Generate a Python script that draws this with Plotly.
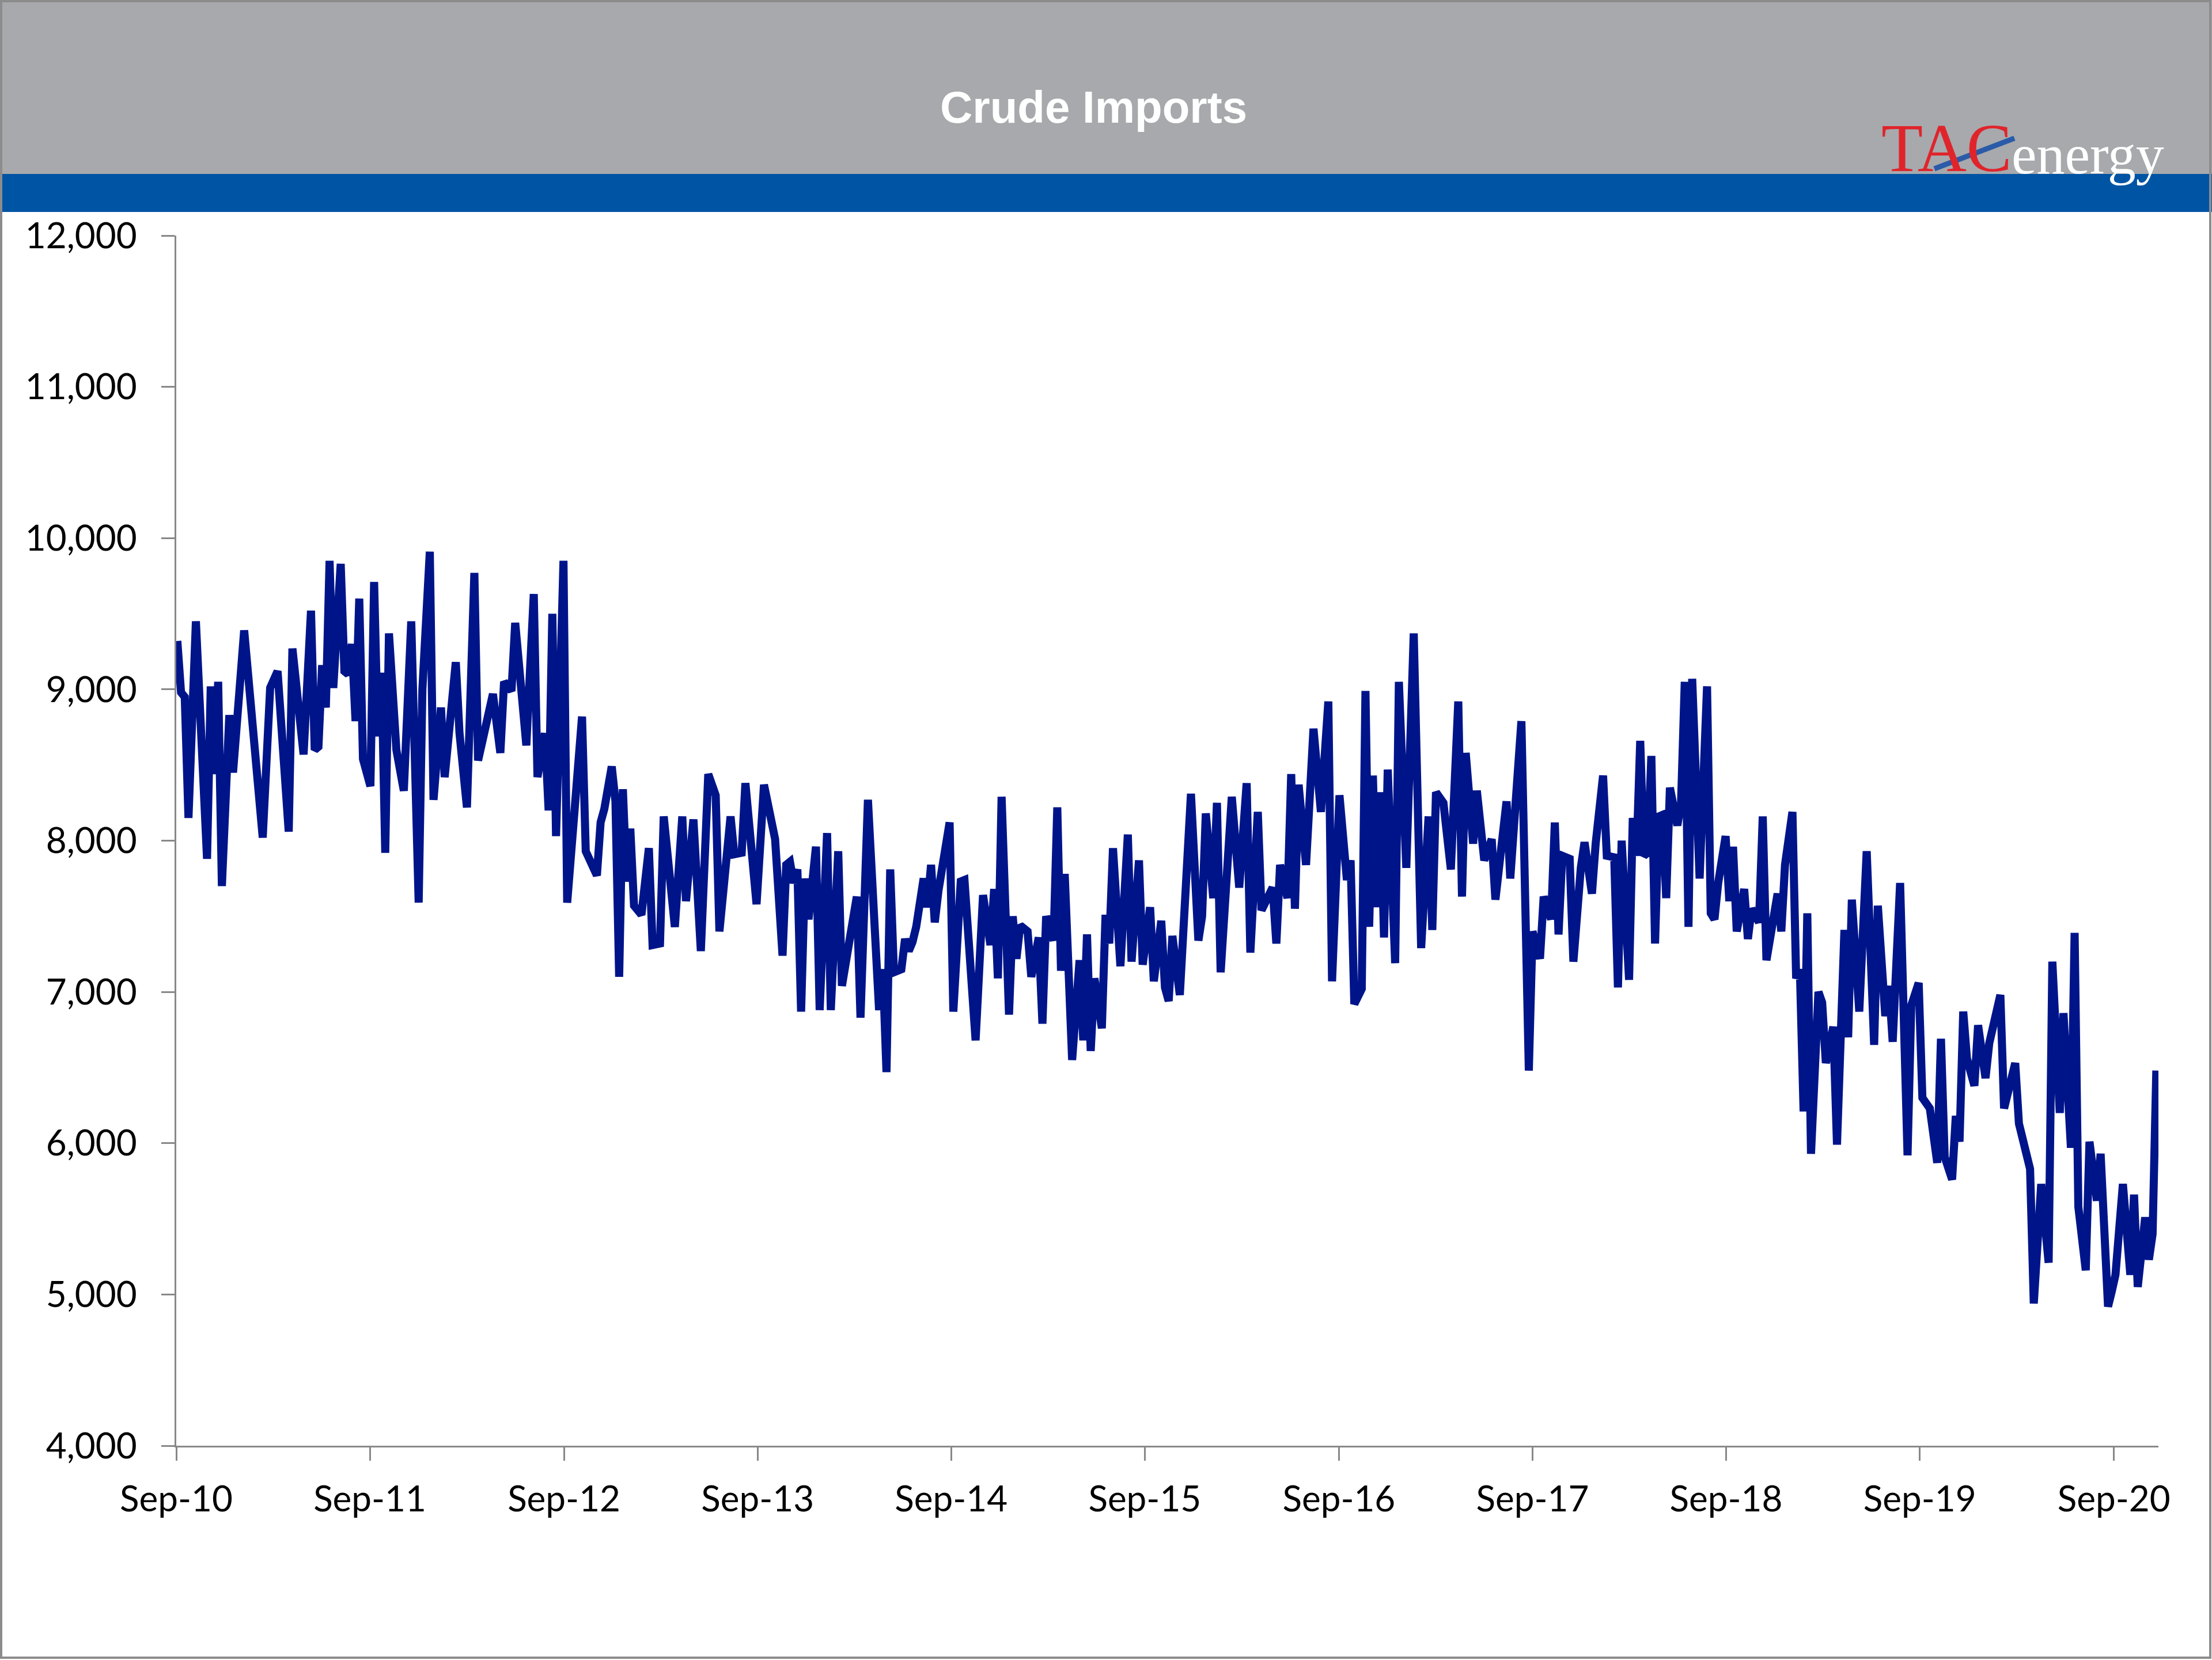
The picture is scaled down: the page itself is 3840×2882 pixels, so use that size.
import numpy as np
import pandas as pd
import plotly.graph_objs as go

# weekly crude imports, kb/d (weeks counted from 2010-09-03)
START = pd.Timestamp("2010-09-03")

weeks = [
    0, 1, 2, 3, 5, 8, 9, 10, 11, 12, 14, 15, 18, 23, 25, 27, 30, 31, 34, 36,
    37, 38, 39, 40, 41, 42, 44, 45, 46, 47, 48, 49, 50, 52, 53, 54, 55, 56, 57, 59,
    61, 63, 65, 66, 68, 69, 71, 72, 75, 76, 78, 80, 81, 83, 85, 87, 88, 90, 91, 94,
    96, 97, 99, 100, 101, 102, 104, 105, 107, 109, 110, 113, 114, 115, 117, 118, 119, 120, 121, 122,
    123, 125, 127, 128, 130, 131, 134, 136, 137, 139, 141, 143, 145, 146, 149, 150, 152, 153, 156, 158,
    161, 163, 164, 165, 166, 167, 168, 169, 170, 172, 173, 175, 176, 178, 179, 181, 183, 184, 186, 189,
    190, 191, 192, 193, 195, 196, 197, 198, 199, 201, 202, 203, 204, 205, 208, 209, 211, 212, 215, 217,
    219, 220, 221, 222, 224, 225, 226, 227, 229, 230, 232, 233, 234, 236, 237, 238, 239, 241, 243, 244,
    245, 246, 247, 249, 250, 251, 252, 254, 256, 257, 259, 260, 262, 263, 265, 266, 267, 268, 270, 273,
    275, 276, 277, 279, 280, 281, 283, 284, 286, 288, 289, 291, 292, 295, 296, 297, 299, 300, 301, 302,
    304, 306, 308, 310, 311, 313, 315, 316, 317, 319, 320, 321, 322, 323, 324, 325, 326, 328, 329, 331,
    333, 335, 337, 338, 339, 341, 343, 345, 346, 347, 349, 350, 352, 354, 355, 358, 359, 362, 364, 365,
    367, 368, 370, 371, 372, 373, 375, 376, 378, 379, 381, 382, 384, 385, 387, 388, 389, 391, 392, 393,
    394, 395, 396, 397, 398, 399, 400, 401, 402, 404, 405, 406, 407, 408, 410, 412, 413, 414, 415, 417,
    418, 419, 420, 422, 423, 424, 426, 427, 428, 431, 432, 433, 435, 436, 437, 438, 439, 440, 442, 443,
    444, 446, 447, 449, 450, 451, 453, 455, 457, 458, 460, 461, 462, 464, 466, 467, 469, 470, 472, 474,
    475, 476, 478, 479, 480, 481, 482, 484, 485, 487, 488, 491, 492, 495, 496, 499, 500, 502, 504, 505,
    507, 508, 510, 511, 512, 514, 515, 517, 518, 520, 521, 522, 524, 526, 527, 528, 530, 531, 532, 533,
]

imports = [
    9320, 8980, 8950, 8150, 9450, 7880, 9020, 8440, 9050, 7700, 8830, 8450, 9390, 8020, 9010, 9120, 8060, 9270, 8570, 9520,
    8600, 8620, 9160, 8880, 9850, 9010, 9830, 9120, 9100, 9300, 8790, 9600, 8540, 8360, 9710, 8690, 9110, 7920, 9370, 8600,
    8330, 9450, 7590, 9000, 9910, 8270, 8880, 8420, 9180, 8710, 8220, 9770, 8530, 8740, 8970, 8580, 9050, 8990, 9440, 8630,
    9630, 8420, 8710, 8200, 9500, 8030, 9850, 7590, 8260, 8820, 7930, 7770, 8120, 8210, 8490, 8260, 7100, 8340, 7730, 8080,
    7570, 7510, 7950, 7310, 7320, 8160, 7430, 8160, 7600, 8140, 7270, 8440, 8300, 7400, 8160, 7910, 7920, 8380, 7580, 8370,
    8010, 7240, 7840, 7860, 7720, 7810, 6870, 7750, 7480, 7960, 6880, 8050, 6880, 7930, 7040, 7310, 7630, 6830, 8270, 6880,
    7150, 6470, 7810, 7130, 7150, 7350, 7270, 7330, 7430, 7750, 7560, 7840, 7460, 7670, 8120, 6870, 7730, 7740, 6680, 7640,
    7310, 7680, 7090, 8290, 6850, 7500, 7220, 7440, 7400, 7100, 7360, 6790, 7500, 7340, 8220, 7140, 7780, 6550, 7210, 6680,
    7380, 6610, 7090, 6760, 7510, 7320, 7950, 7170, 8040, 7200, 7870, 7180, 7560, 7070, 7470, 7030, 6940, 7370, 6980, 8310,
    7340, 7500, 8180, 7620, 8250, 7130, 7800, 8290, 7690, 8380, 7260, 8190, 7540, 7690, 7320, 7840, 7620, 8440, 7550, 8370,
    7840, 8740, 8190, 8920, 7070, 8300, 7740, 7870, 6920, 7020, 8990, 7430, 8430, 7560, 8320, 7360, 8470, 7190, 9050, 7820,
    9370, 7290, 8160, 7410, 8320, 8250, 7810, 8920, 7630, 8580, 7980, 8330, 7870, 8010, 7610, 8260, 7750, 8790, 6480, 7400,
    7220, 7630, 7480, 8120, 7380, 7900, 7880, 7200, 7820, 7990, 7650, 7980, 8430, 7900, 7890, 7030, 8000, 7080, 8150, 7900,
    8660, 7900, 7920, 8560, 7320, 8160, 8170, 7620, 8350, 8100, 8250, 9050, 7430, 9070, 7750, 9020, 7520, 7480, 7720, 8030,
    7600, 7960, 7400, 7680, 7350, 7550, 7460, 8160, 7210, 7650, 7400, 7840, 8190, 7090, 7150, 6210, 7520, 5930, 7000, 6930,
    6530, 6770, 5990, 7410, 6700, 7610, 6870, 7930, 6650, 7570, 6840, 7040, 6670, 7720, 5920, 6910, 7060, 6300, 6230, 5870,
    6690, 5910, 5760, 6180, 6010, 6870, 6560, 6380, 6780, 6430, 6660, 6980, 6230, 6530, 6130, 5830, 4940, 5730, 5210, 7200,
    6200, 6860, 5970, 7390, 5580, 5160, 6010, 5620, 5930, 4920, 5020, 5130, 5730, 5130, 5660, 5050, 5510, 5230, 5400, 6480,
]

tick_dates = ["%d-09-01" % y for y in range(2010, 2021)]
tick_labels = ["Sep-%02d" % (y % 100) for y in range(2010, 2021)]
y_ticks = list(range(4000, 12001, 1000))

W, H = 3840, 2882
PLOT_L, PLOT_R, PLOT_T, PLOT_B = 306, 3747, 409, 2510


def px(x):
    return (x - PLOT_L) / (PLOT_R - PLOT_L)


def py(y):
    return (PLOT_B - y) / (PLOT_B - PLOT_T)


dates = START + pd.to_timedelta(np.array(weeks) * 7, unit="D")

line = go.Scatter(x=dates, y=imports, mode="lines",
                  line=dict(color="#00148A", width=14), showlegend=False)

tick_font = dict(family="Lato", size=62, color="#000000")

layout = dict(
    width=W,
    height=H,
    margin=dict(l=PLOT_L, r=W - PLOT_R, t=PLOT_T, b=H - PLOT_B),
    paper_bgcolor="white",
    plot_bgcolor="white",
    xaxis=dict(
        type="date",
        range=["2010-09-01", "2020-11-24"],
        tickvals=tick_dates,
        ticktext=tick_labels,
        ticks="outside", ticklen=23, tickwidth=3, tickcolor="#888888",
        showline=True, linecolor="#888888", linewidth=3,
        showgrid=False, zeroline=False,
        tickfont=tick_font, ticklabelstandoff=14,
    ),
    yaxis=dict(
        range=[4000, 12000],
        tickvals=y_ticks,
        tickformat=",",
        ticks="outside", ticklen=23, tickwidth=3, tickcolor="#888888",
        showline=True, linecolor="#888888", linewidth=3,
        showgrid=False, zeroline=False,
        tickfont=tick_font, ticklabelstandoff=30,
    ),
    shapes=[
        # grey header and blue band
        dict(type="rect", xref="paper", yref="paper", x0=px(0), x1=px(W), y0=py(302), y1=py(0),
             fillcolor="#A7A9AC", line=dict(width=0)),
        dict(type="rect", xref="paper", yref="paper", x0=px(0), x1=px(W), y0=py(368), y1=py(302),
             fillcolor="#0054A4", line=dict(width=0)),
        # outer frame
        dict(type="rect", xref="paper", yref="paper", x0=px(2), x1=px(W - 3), y0=py(H - 4), y1=py(2),
             line=dict(color="#8C8C8C", width=4)),
        # logo swoosh
        dict(type="line", xref="paper", yref="paper", x0=px(3358), y0=py(293), x1=px(3497), y1=py(240),
             line=dict(color="#2B5BA8", width=9)),
    ],
    annotations=[
        dict(text="<b>Crude Imports</b>", xref="paper", yref="paper", x=px(1898), y=py(186),
             xanchor="center", yanchor="middle", showarrow=False,
             font=dict(family="Liberation Sans, Arial", size=78, color="white")),
        dict(text="TAC", xref="paper", yref="paper", x=px(3495), y=py(257),
             xanchor="right", yanchor="middle", showarrow=False,
             font=dict(family="Liberation Serif", size=118, color="#E0242B")),
        dict(text="energy", xref="paper", yref="paper", x=px(3490), y=py(268),
             xanchor="left", yanchor="middle", showarrow=False,
             font=dict(family="Liberation Serif", size=98, color="white")),
    ],
)

fig = go.Figure(data=[line], layout=layout)
# drop the browser's default page margin so the figure sits at the window origin
fig.write_html("out.html", config={"displayModeBar": False},
               post_script="document.body.style.margin='0';")
